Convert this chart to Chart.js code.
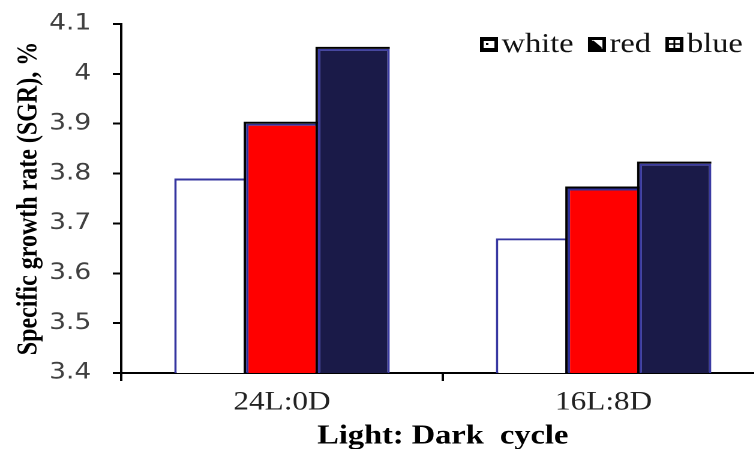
<!DOCTYPE html>
<html>
<head>
<meta charset="utf-8">
<script src="https://cdn.jsdelivr.net/npm/chart.js@4.4.1/dist/chart.umd.min.js"></script>
<style>
    html, body { margin: 0; padding: 0; background: #fff; overflow: hidden; width: 754px; height: 449px; }
    /* the original figure is stretched horizontally, so the chart is drawn narrow and widened */
    #wrap { width: 640px; height: 449px; transform: scale(1.2, 1); transform-origin: 0 0; }
</style>
</head>
<body>
<div id="wrap"><canvas id="myChart" width="640" height="449"></canvas></div>
<script>
// Données
const cycles = ['24L:0D', '16L:8D'];
const whiteValues = [3.79, 3.67];
const redValues = [3.90, 3.77];
const blueValues = [4.05, 3.82];

// Petites icônes de la légende (carré noir avec motif blanc)
function drawIcon(ctx, kind, x, y) {
    ctx.fillStyle = '#000';
    ctx.fillRect(x, y, 15, 15);
    ctx.fillStyle = '#fff';
    ctx.lineWidth = 1.5;
    if (kind === 0) {
        ctx.fillRect(x + 3, y + 4, 9, 7);
        ctx.fillStyle = '#000';
        ctx.fillRect(x + 5, y + 6, 2, 2);
    } else if (kind === 1) {
        ctx.beginPath();
        ctx.moveTo(x + 3, y + 3);
        ctx.lineTo(x + 12, y + 3);
        ctx.lineTo(x + 12, y + 12);
        ctx.closePath();
        ctx.fill();
        ctx.strokeStyle = '#000';
        ctx.beginPath();
        ctx.moveTo(x + 4, y + 4);
        ctx.lineTo(x + 11, y + 11);
        ctx.stroke();
    } else {
        ctx.fillRect(x + 3, y + 3, 9, 8);
        ctx.strokeStyle = '#000';
        ctx.beginPath();
        ctx.moveTo(x + 7.5, y + 3);
        ctx.lineTo(x + 7.5, y + 11);
        ctx.moveTo(x + 3, y + 7);
        ctx.lineTo(x + 12, y + 7);
        ctx.stroke();
    }
}

const iconLegend = {
    id: 'iconLegend',
    afterDraw(chart) {
        const ctx = chart.ctx;
        ctx.save();
        ctx.font = '27px "Liberation Serif"';
        ctx.textBaseline = 'middle';
        let x = 400;
        const y = 45;
        chart.data.datasets.forEach((ds, i) => {
            drawIcon(ctx, i, x, y - 8);
            x += 18;
            ctx.fillStyle = '#111';
            ctx.fillText(ds.label, x, y);
            x += ctx.measureText(ds.label).width + 12;
        });
        ctx.restore();
    }
};

// Ombre noire en haut et à gauche des barres rouges et bleues
const barShadow = {
    id: 'barShadow',
    afterDatasetsDraw(chart) {
        const ctx = chart.ctx;
        ctx.save();
        ctx.strokeStyle = '#000';
        ctx.lineWidth = 2;
        [1, 2].forEach(i => {
            chart.getDatasetMeta(i).data.forEach(bar => {
                const left = bar.x - bar.width / 2;
                const right = bar.x + bar.width / 2;
                ctx.beginPath();
                ctx.moveTo(left - 1, chart.chartArea.bottom);
                ctx.lineTo(left - 1, bar.y - 1);
                ctx.lineTo(right, bar.y - 1);
                ctx.stroke();
            });
        });
        ctx.restore();
    }
};

const ctx = document.getElementById('myChart').getContext('2d');

new Chart(ctx, {
    type: 'bar',
    data: {
        labels: cycles,
        datasets: [{
            label: 'white',
            data: whiteValues,
            backgroundColor: '#ffffff',
            borderColor: '#3535a0',
            borderWidth: 2
        }, {
            label: 'red',
            data: redValues,
            backgroundColor: '#ff0000',
            borderColor: '#30309a',
            borderWidth: 2
        }, {
            label: 'blue',
            data: blueValues,
            backgroundColor: '#1a1a48',
            borderColor: '#3a3aa2',
            borderWidth: 2
        }]
    },
    options: {
        responsive: false,
        animation: false,
        devicePixelRatio: 2,
        categoryPercentage: 0.67,
        barPercentage: 1.0,
        layout: {
            padding: { top: 24, right: 3, bottom: 0, left: 0 }
        },
        plugins: {
            legend: { display: false },
            tooltip: { enabled: false }
        },
        scales: {
            x: {
                afterFit: (scale) => { scale.height = 76; },
                border: { color: '#000', width: 2 },
                grid: {
                    drawOnChartArea: false,
                    drawTicks: true,
                    tickLength: 8,
                    color: '#000',
                    lineWidth: 2
                },
                ticks: {
                    padding: 6,
                    color: '#222',
                    font: { family: '"Liberation Serif"', size: 26 }
                },
                title: {
                    display: true,
                    text: 'Light: Dark  cycle',
                    color: '#000',
                    padding: { top: 0, bottom: 0 },
                    font: { family: '"Liberation Serif"', size: 27, weight: 'bold', lineHeight: 0.92 }
                }
            },
            y: {
                min: 3.4,
                max: 4.1,
                afterFit: (scale) => {
                    scale.width = 101;
                    scale.paddingTop = 0;
                    scale.paddingBottom = 0;
                },
                border: { color: '#000', width: 2 },
                grid: {
                    drawOnChartArea: false,
                    drawTicks: true,
                    tickLength: 7,
                    color: '#000',
                    lineWidth: 2
                },
                ticks: {
                    stepSize: 0.1,
                    padding: 18,
                    color: '#404040',
                    font: { family: '"DejaVu Sans"', size: 22 },
                    callback: (value) => String(Math.round(value * 10) / 10)
                },
                title: {
                    display: true,
                    text: 'Specific growth rate (SGR), %',
                    color: '#000',
                    padding: { top: 10, bottom: 0 },
                    font: { family: '"Liberation Serif"', size: 24, weight: 'bold' }
                }
            }
        }
    },
    plugins: [barShadow, iconLegend]
});
</script>
</body>
</html>
